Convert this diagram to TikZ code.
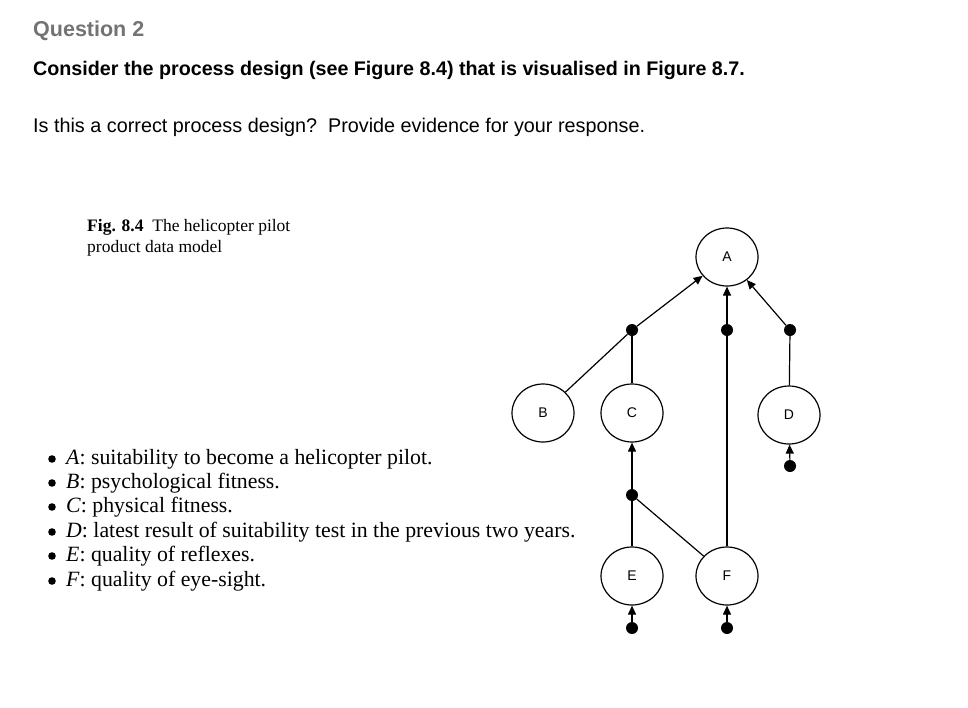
\documentclass[tikz,border=0pt]{standalone}
\usepackage{fontspec}
\setmainfont{Liberation Serif}
\setsansfont{Liberation Sans}
\usetikzlibrary{arrows.meta,shapes.geometric}
\begin{document}
\begin{tikzpicture}[x=1pt,y=-1pt,
  st/.style={draw,ellipse,minimum width=62pt,minimum height=58pt,inner sep=0pt,line width=1.2pt,font=\sffamily\fontsize{14}{14}\selectfont},
  jd/.style={circle,fill,inner sep=0pt,minimum size=12pt},
  ln/.style={line width=1.2pt},
  ar/.style={line width=1.2pt,-{Triangle[length=9pt,width=8pt]}},
  tx/.style={anchor=west,inner sep=0pt}]
\path[use as bounding box] (0,0) rectangle (968,707);
\node[tx,font=\sffamily\bfseries\fontsize{21.5}{21.5}\selectfont,text=black!55] (q) at (33,31) {Question 2};
\node[tx,font=\sffamily\bfseries\fontsize{19.7}{19.7}\selectfont] (t1) at (33,70) {Consider the process design (see Figure 8.4) that is visualised in Figure 8.7.};
\node[tx,font=\sffamily\fontsize{19.8}{19.8}\selectfont] (t2) at (33,127) {Is this a correct process design?\ \ Provide evidence for your response.};
\node[tx,anchor=north west,align=left,font=\fontsize{17.5}{21}\selectfont] (cap) at (87,219) {\textbf{Fig. 8.4}\ \ The helicopter pilot\\product data model};
\foreach \y/\t in {459/{\textit{A}: suitability to become a helicopter pilot.},
  483/{\textit{B}: psychological fitness.},
  507/{\textit{C}: physical fitness.},
  532/{\textit{D}: latest result of suitability test in the previous two years.},
  556/{\textit{E}: quality of reflexes.},
  581/{\textit{F}: quality of eye-sight.}}{
  \fill (52,\y) circle (3.8pt);
  \node[tx,font=\fontsize{21.8}{21.8}\selectfont] at (66,\y) {\t};
}
\node[st] (A) at (727,257) {A};
\node[st] (B) at (543,413) {B};
\node[st] (C) at (632,413) {C};
\node[st] (D) at (789,415) {D};
\node[st] (E) at (632,576) {E};
\node[st] (F) at (727,576) {F};
\node[jd] (j1) at (632,330) {};
\node[jd] (j2) at (727,330) {};
\node[jd] (j3) at (790,330) {};
\node[jd] (j4) at (632,495) {};
\node[jd] (bD) at (790,466) {};
\node[jd] (bE) at (632,628) {};
\node[jd] (bF) at (727,628) {};
\draw[ln] (B) -- (j1); \draw[ln] (C) -- (j1); \draw[ar] (j1) -- (A);
\draw[ln] (F) -- (j2); \draw[ar] (j2) -- (A);
\draw[ln] (D) -- (j3); \draw[ar] (j3) -- (A);
\draw[ln] (E) -- (j4); \draw[ln] (F) -- (j4); \draw[ar] (j4) -- (C);
\draw[ar] (bD) -- (D); \draw[ar] (bE) -- (E); \draw[ar] (bF) -- (F);
\end{tikzpicture}
\end{document}
